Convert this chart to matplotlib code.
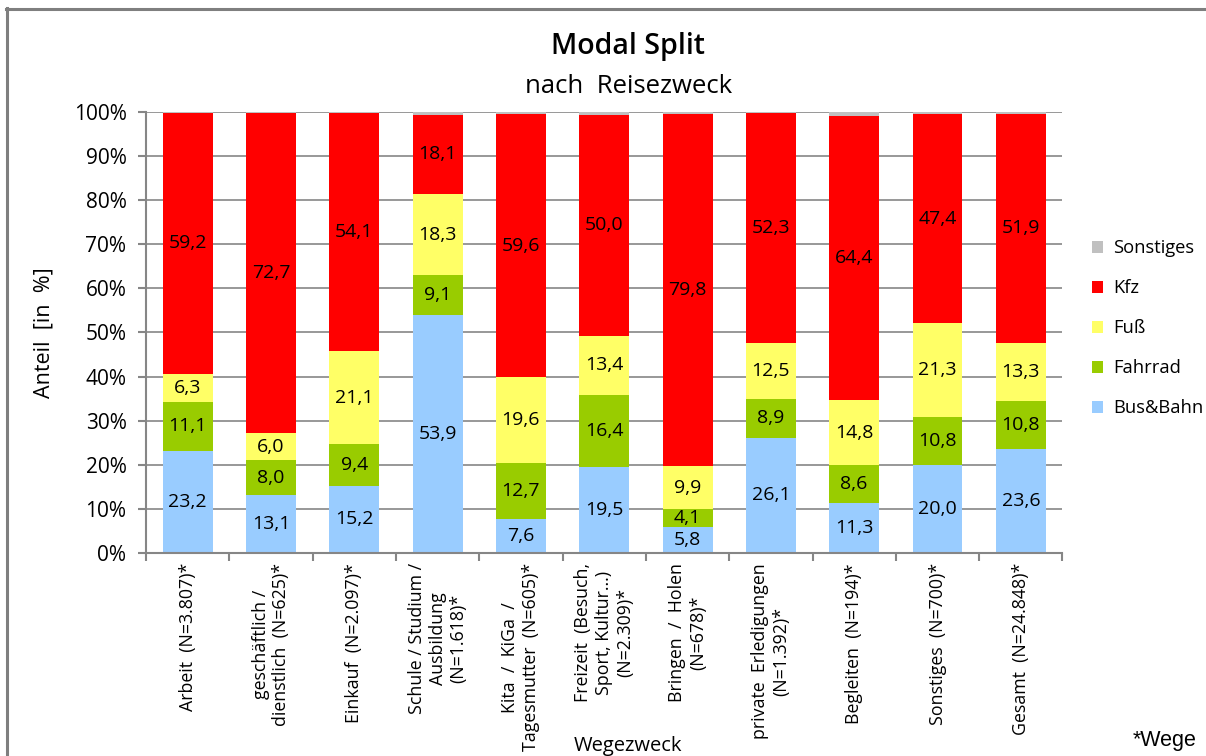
import matplotlib
matplotlib.use('Agg')
import matplotlib.pyplot as plt
from matplotlib.lines import Line2D
from matplotlib.patches import Patch
import numpy as np

plt.rcParams['font.family'] = ['Open Sans', 'DejaVu Sans']

categories = [
    'Arbeit  (N=3.807)*',
    'geschäftlich /\ndienstlich  (N=625)*',
    'Einkauf  (N=2.097)*',
    'Schule / Studium /\nAusbildung\n(N=1.618)*',
    'Kita  /  KiGa  /\nTagesmutter  (N=605)*',
    'Freizeit  (Besuch,\nSport, Kultur...)\n(N=2.309)*',
    'Bringen  /  Holen\n(N=678)*',
    'private  Erledigungen\n(N=1.392)*',
    'Begleiten  (N=194)*',
    'Sonstiges  (N=700)*',
    'Gesamt  (N=24.848)*',
]

bus_bahn = [23.2, 13.1, 15.2, 53.9, 7.6, 19.5, 5.8, 26.1, 11.3, 20.0, 23.6]
fahrrad = [11.1, 8.0, 9.4, 9.1, 12.7, 16.4, 4.1, 8.9, 8.6, 10.8, 10.8]
fuss = [6.3, 6.0, 21.1, 18.3, 19.6, 13.4, 9.9, 12.5, 14.8, 21.3, 13.3]
kfz = [59.2, 72.7, 54.1, 18.1, 59.6, 50.0, 79.8, 52.3, 64.4, 47.4, 51.9]
sonstiges = [0.2, 0.2, 0.2, 0.6, 0.5, 0.7, 0.4, 0.2, 0.9, 0.5, 0.4]

series = [
    ('Bus&Bahn', bus_bahn, '#99CCFF', True),
    ('Fahrrad', fahrrad, '#99CC00', True),
    ('Fuß', fuss, '#FFFF66', True),
    ('Kfz', kfz, '#FF0000', True),
    ('Sonstiges', sonstiges, '#C0C0C0', False),
]

grey = '#868686'

fig = plt.figure(figsize=(12.06, 7.56), dpi=100)
ax = fig.add_axes([0.121, 0.2685, 0.76, 0.5835])

x = np.arange(len(categories))
bottom = np.zeros(len(categories))
for name, vals, color, labelled in series:
    vals = np.array(vals)
    ax.bar(x, vals, width=0.6, bottom=bottom, color=color, zorder=2)
    if labelled:
        for xi, b, v in zip(x, bottom, vals):
            ax.text(xi, b + v / 2, f'{v:.1f}'.replace('.', ','), ha='center',
                    va='center', fontsize=14, color='black', zorder=3)
    bottom += vals

ax.set_xlim(-0.5, len(categories) - 0.5)
ax.set_ylim(0, 100)
ax.set_yticks(range(0, 101, 10))
ax.set_yticklabels([f'{v}%' for v in range(0, 101, 10)], fontsize=15)
ax.yaxis.grid(True, color=grey, linewidth=1.2, zorder=0)
ax.set_axisbelow(True)

ax.set_xticks(np.arange(len(categories) + 1) - 0.5)
ax.set_xticklabels([])
for xi, lab in zip(x, categories):
    ax.text(xi, -2.3, lab, rotation=90, ha='center', va='top',
            multialignment='center', fontsize=12.8, linespacing=1.2,
            transform=ax.transData)

for side in ['top', 'right']:
    ax.spines[side].set_visible(False)
for side in ['left', 'bottom']:
    ax.spines[side].set_color(grey)
    ax.spines[side].set_linewidth(1.5)
ax.tick_params(axis='both', colors=grey, length=6, width=1.5, direction='out')
ax.tick_params(axis='y', labelcolor='black', pad=8)

ax.set_ylabel('Anteil  [in  %]', fontsize=15.5, labelpad=14)
fig.text(0.5208, 0.013, 'Wegezweck', ha='center', va='center', fontsize=14.5)
fig.text(0.966, 0.021, '*Wege', ha='center', va='center', fontsize=15.5,
         family='Liberation Sans')

fig.text(0.5208, 0.938, 'Modal Split', ha='center', va='center', fontsize=20.5,
         weight='semibold')
fig.text(0.5208, 0.886, 'nach  Reisezweck', ha='center', va='center', fontsize=18.5)

handles = [Patch(facecolor=c, edgecolor='none', label=n)
           for n, _, c, _ in reversed(series)]
fig.legend(handles=handles, loc='center left', bbox_to_anchor=(0.899, 0.566),
           frameon=False, fontsize=13.2, handlelength=0.65, handleheight=0.65,
           handletextpad=0.55, labelspacing=1.2, borderaxespad=0)

# outer chart frame (cut off at the right and bottom edge)
fig.add_artist(Line2D([0.005, 1.0], [0.988, 0.988], color='#7f7f7f', lw=2.2,
                      transform=fig.transFigure))
fig.add_artist(Line2D([0.006, 0.006], [0.0, 0.989], color='#7f7f7f', lw=2.2,
                      transform=fig.transFigure))

fig.savefig('out.png', dpi=100)
